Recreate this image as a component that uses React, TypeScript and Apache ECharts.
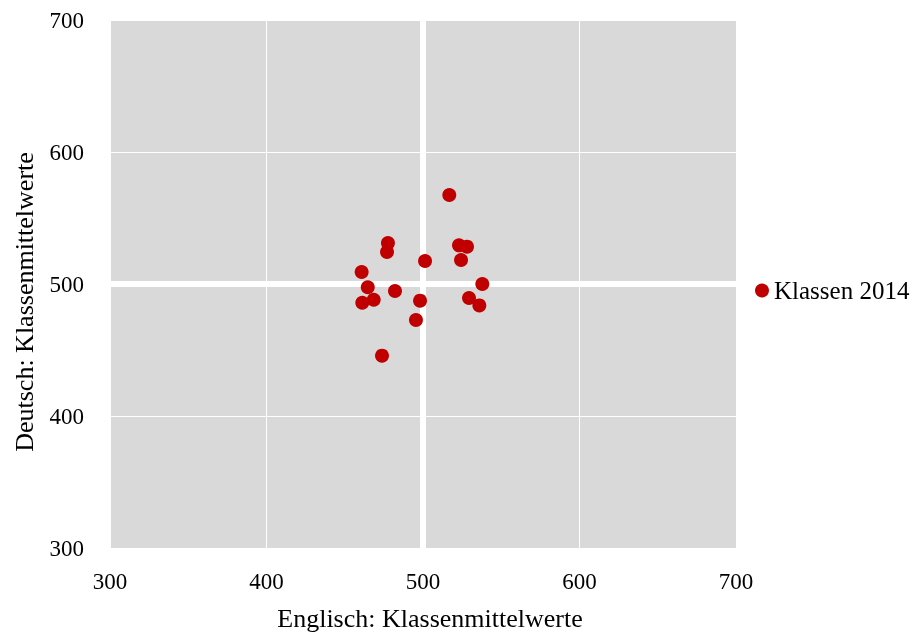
import React, { useEffect, useRef } from "react";
import * as echarts from "echarts";

const englisch: number[] = [516.8, 477.6, 477.0, 523.0, 528.1, 524.3, 501.3, 460.8, 537.9, 464.7, 482.1, 461.2, 468.5, 498.1, 529.4, 536.0, 495.5, 473.8];
const deutsch: number[] = [567.4, 531.1, 524.2, 529.3, 528.3, 518.2, 517.4, 509.1, 500.0, 497.5, 494.7, 485.8, 488.1, 487.4, 489.4, 483.8, 472.7, 445.7];
const seriesName = "Klassen 2014";
const xTitle = "Englisch: Klassenmittelwerte";
const yTitle = "Deutsch: Klassenmittelwerte";
const refValue = 500;
const axisMin = 300;
const axisMax = 700;
const axisStep = 100;

const FONT = "'Liberation Serif', 'Times New Roman', serif";

export default function App() {
  const ref = useRef<HTMLDivElement>(null);
  useEffect(() => {
    if (!ref.current) return;
    const chart = echarts.init(ref.current, undefined, { renderer: "svg" });
    const pts = englisch.map((x, i) => [x, deutsch[i]]);
    const axisCommon = {
      type: "value" as const,
      min: axisMin,
      max: axisMax,
      interval: axisStep,
      axisLine: { show: false },
      axisTick: { show: false },
      splitLine: { show: true, lineStyle: { color: "#ffffff", width: 1 } },
      axisLabel: { color: "#000", fontFamily: FONT, fontSize: 23 },
    };
    chart.setOption({
      animation: false,
      textStyle: { fontFamily: FONT },
      grid: {
        left: 110,
        top: 20,
        right: 181,
        bottom: 88,
        show: true,
        backgroundColor: "#d9d9d9",
        borderWidth: 0,
      },
      xAxis: { ...axisCommon, axisLabel: { ...axisCommon.axisLabel, margin: 22 } },
      yAxis: { ...axisCommon, axisLabel: { ...axisCommon.axisLabel, margin: 26 } },
      legend: {
        data: [seriesName],
        orient: "vertical",
        left: 750,
        top: 273,
        icon: "circle",
        itemWidth: 14,
        itemHeight: 14,
        itemGap: 8,
        textStyle: { color: "#000", fontFamily: FONT, fontSize: 25 },
      },
      graphic: [
        {
          type: "text",
          x: 430,
          y: 618,
          style: { text: xTitle, fill: "#000", font: `26px ${FONT}`, align: "center", verticalAlign: "middle" },
        },
        {
          type: "text",
          x: 24,
          y: 302,
          rotation: Math.PI / 2,
          style: { text: yTitle, fill: "#000", font: `26px ${FONT}`, align: "center", verticalAlign: "middle" },
        },
      ],
      series: [
        {
          name: "refV",
          type: "line",
          data: [[refValue, axisMin], [refValue, axisMax]],
          symbol: "none",
          silent: true,
          z: 1,
          lineStyle: { color: "#ffffff", width: 6 },
        },
        {
          name: "refH",
          type: "line",
          data: [[axisMin, refValue], [axisMax, refValue]],
          symbol: "none",
          silent: true,
          z: 1,
          lineStyle: { color: "#ffffff", width: 6 },
        },
        {
          name: seriesName,
          type: "scatter",
          data: pts,
          symbol: "circle",
          symbolSize: 14,
          z: 3,
          itemStyle: { color: "#c00000", opacity: 1 },
        },
      ],
    });
    return () => chart.dispose();
  }, []);
  return <div ref={ref} style={{ position: "fixed", left: 0, top: 0, width: 917, height: 636 }} />;
}
